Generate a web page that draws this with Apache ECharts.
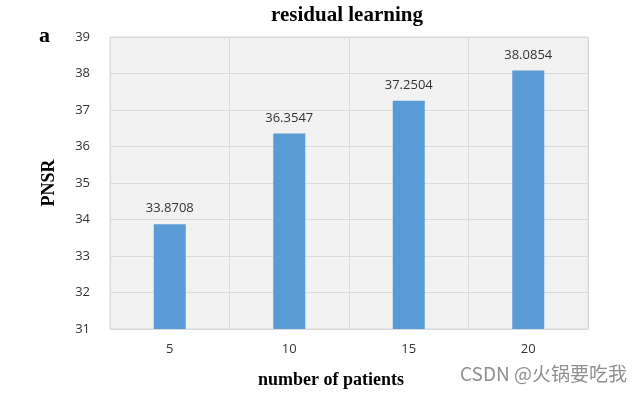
<!DOCTYPE html>
<html>
<head>
<meta charset="utf-8">
<script src="https://cdn.jsdelivr.net/npm/echarts@6/dist/echarts.min.js"></script>
<style>html,body{margin:0;padding:0;background:#fff;}#c{width:641px;height:394px;}</style>
</head>
<body>
<div id="c"></div>
<script>
const categories = ['5', '10', '15', '20'];
const psnrValues = [33.8708, 36.3547, 37.2504, 38.0854];
const yTicks = [31, 32, 33, 34, 35, 36, 37, 38, 39];

// subtle diagonal hatch for plot background
const pc = document.createElement('canvas');
pc.width = 4; pc.height = 4;
const g = pc.getContext('2d');
g.fillStyle = '#f3f3f3'; g.fillRect(0, 0, 4, 4);
g.strokeStyle = '#eeeeee'; g.lineWidth = 1;
g.beginPath(); g.moveTo(0, 4); g.lineTo(4, 0); g.stroke();

const chart = echarts.init(document.getElementById('c'), null, {renderer: 'canvas'});
chart.setOption({
  animation: false,
  backgroundColor: '#ffffff',
  title: {
    text: 'residual learning',
    left: 342, top: 0, textAlign: 'center',
    textStyle: {fontFamily: 'Liberation Serif', fontWeight: 'bold', fontSize: 21, color: '#000'}
  },
  graphic: [
    {type: 'text', left: 39, top: 25, style: {text: 'a', font: 'bold 22px "Liberation Serif"', fill: '#000'}},
    {type: 'text', left: 460, top: 364, style: {text: 'CSDN @火锅要吃我', font: '19px "Noto Sans CJK SC"', fill: '#8f8f8f'}}
  ],
  grid: {
    left: 110, right: 53, top: 37, bottom: 57,
    show: true, backgroundColor: {image: pc, repeat: 'repeat'}, borderColor: '#dadada', borderWidth: 1
  },
  xAxis: {
    type: 'category',
    data: categories,
    name: 'number of patients',
    nameLocation: 'middle', nameGap: 42,
    nameTextStyle: {fontFamily: 'Liberation Serif', fontWeight: 'bold', fontSize: 18, color: '#000', padding: [0, 36, 0, 0]},
    axisLine: {show: true, lineStyle: {color: '#dadada'}},
    axisTick: {show: false},
    axisLabel: {color: '#333', fontSize: 13, fontFamily: 'Open Sans', margin: 14},
    splitLine: {show: true, lineStyle: {color: '#dadada', width: 1}}
  },
  yAxis: {
    type: 'value',
    min: yTicks[0], max: yTicks[yTicks.length - 1], interval: 1,
    name: 'PNSR',
    nameLocation: 'middle', nameGap: 52,
    nameTextStyle: {fontFamily: 'Liberation Serif', fontWeight: 'bold', fontSize: 18, color: '#000'},
    axisLine: {show: false},
    axisTick: {show: false},
    axisLabel: {color: '#333', fontSize: 13, fontFamily: 'Open Sans', margin: 20},
    splitLine: {show: true, lineStyle: {color: '#dadada', width: 1}}
  },
  series: [{
    type: 'bar',
    data: psnrValues,
    barWidth: 32,
    itemStyle: {color: '#5b9bd5'},
    label: {
      show: true, position: 'top', distance: 9,
      color: '#333', fontSize: 13, fontFamily: 'Open Sans',
      formatter: p => p.value.toFixed(4)
    }
  }]
});
</script>
</body>
</html>
